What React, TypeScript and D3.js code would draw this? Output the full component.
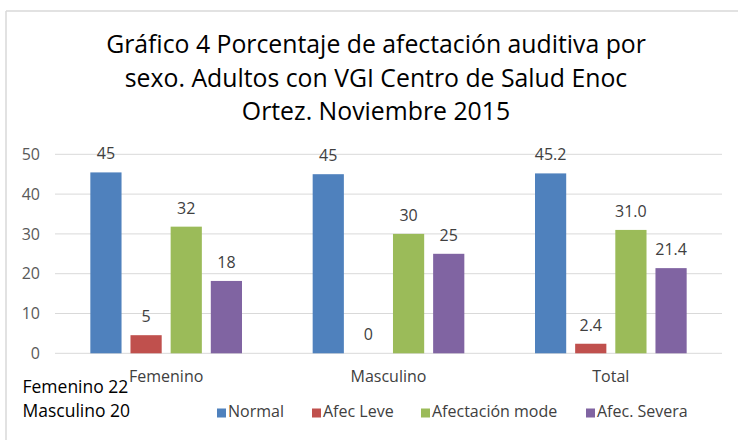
import React from "react";
import * as d3 from "d3";

const categories = ["Femenino", "Masculino", "Total"];
const series = ["Normal", "Afec Leve", "Afectación mode", "Afec. Severa"];
const normal = [45.45, 45.0, 45.2];
const afecLeve = [4.55, 0.0, 2.4];
const afecModerada = [31.82, 30.0, 31.0];
const afecSevera = [18.18, 25.0, 21.4];
const labelDecimals = [0, 0, 1];
const yTicks = [0, 10, 20, 30, 40, 50];
const titleLines = [
  "Gráfico 4 Porcentaje de afectación auditiva por",
  "sexo. Adultos con VGI Centro de Salud Enoc",
  "Ortez. Noviembre 2015",
];
const notes = ["Femenino 22", "Masculino 20"];
const colors = ["#4F81BD", "#C0504D", "#9BBB59", "#8064A2"];

const W = 738;
const H = 440;
const FONT = "'Open Sans', 'Noto Sans', sans-serif";

export default function App() {
  const values = [normal, afecLeve, afecModerada, afecSevera];
  const plot = { left: 55, right: 722, top: 154.3, bottom: 353.3 };
  const x0 = d3.scaleBand<string>().domain(categories).range([plot.left, plot.right]);
  const x1 = d3
    .scaleBand<string>()
    .domain(series)
    .range([0, x0.bandwidth()])
    .paddingInner(0.223)
    .paddingOuter(0.88);
  const y = d3.scaleLinear().domain([0, 50]).range([plot.bottom, plot.top]);

  const legendX = [217, 312, 421, 586];

  return (
    <svg
      width={W}
      height={H}
      style={{ position: "absolute", left: 0, top: 0, background: "#fff" }}
      fontFamily={FONT}
    >
      <rect x={0} y={0} width={W} height={H} fill="#fff" />
      <line x1={6} y1={11} x2={W} y2={11} stroke="#d9d9d9" strokeWidth={1.5} />
      <line x1={6} y1={11} x2={6} y2={H} stroke="#d9d9d9" strokeWidth={1.5} />

      {titleLines.map((t, i) => (
        <text key={t} x={376} y={53 + i * 33.5} textAnchor="middle" fontSize={24.8} fill="#000">
          {t}
        </text>
      ))}

      {yTicks.map((t) => (
        <g key={t}>
          <line x1={plot.left} x2={plot.right} y1={y(t)} y2={y(t)} stroke="#d9d9d9" strokeWidth={1} />
          <text x={40} y={y(t)} dy="0.35em" textAnchor="end" fontSize={16} fill="#595959">
            {t}
          </text>
        </g>
      ))}

      {categories.map((c, ci) => (
        <g key={c} transform={`translate(${x0(c)},0)`}>
          {series.map((s, si) => {
            const v = values[si][ci];
            const bx = x1(s)!;
            return (
              <g key={s}>
                <rect x={bx} y={y(v)} width={x1.bandwidth()} height={y(0) - y(v)} fill={colors[si]} />
                <text
                  x={bx + x1.bandwidth() / 2}
                  y={y(v) - 13}
                  textAnchor="middle"
                  fontSize={16}
                  fill="#404040"
                >
                  {v.toFixed(labelDecimals[ci])}
                </text>
              </g>
            );
          })}
          <text x={x0.bandwidth() / 2} y={381.7} textAnchor="middle" fontSize={16} fill="#404040">
            {c}
          </text>
        </g>
      ))}

      {notes.map((n, i) => (
        <text key={n} x={22.5} y={393.3 + i * 23.4} fontSize={17.5} fill="#000">
          {n}
        </text>
      ))}

      {series.map((s, i) => (
        <g key={s} transform={`translate(${legendX[i]},0)`}>
          <rect x={0} y={408.5} width={9} height={9} fill={colors[i]} />
          <text x={11} y={417.3} fontSize={16} fill="#404040">
            {s}
          </text>
        </g>
      ))}
    </svg>
  );
}
